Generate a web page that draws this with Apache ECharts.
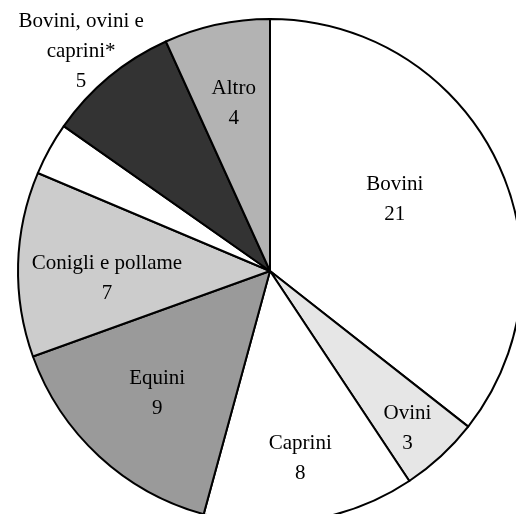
<!DOCTYPE html>
<html>
<head>
<meta charset="utf-8">
<title>Ripartizione</title>
<script src="https://cdn.jsdelivr.net/npm/echarts@6/dist/echarts.min.js"></script>
<style>
  html, body { margin: 0; padding: 0; background: #fff; }
  #chart { width: 516px; height: 514px; }
</style>
</head>
<body>
<div id="chart"></div>
<script>
// slices, clockwise from 12 o'clock
const categories = [
  "Bovini",
  "Ovini",
  "Caprini",
  "Equini",
  "Conigli e pollame",
  "",
  "Bovini, ovini e\ncaprini*",
  "Altro",
];
const values = [21, 3, 8, 9, 7, 2, 5, 4];

const SLICE_COLORS = ["#ffffff", "#e6e6e6", "#ffffff", "#9a9a9a", "#cccccc", "#ffffff", "#333333", "#b3b3b3"];
// label placement: share of the radius, and a small turn (degrees) off the slice middle
const LABEL_REACH = [0.57, 0.83, 0.755, 0.66, 0.648, 0.5, 1.148, 0.68];
const LABEL_TURN = [-3.7, 1.6, 0, 0, -4.3, 0, -1.1, 0];

const FONT = "'Liberation Serif', 'Times New Roman', serif";
const CENTER = [270, 271];
const RADIUS = 252;

const chart = echarts.init(document.getElementById("chart"), null, { renderer: "canvas" });

function midAngle(index) {
  // prefer the library's own sector layout, fall back to summing the values
  try {
    const layout = chart.getModel().getSeriesByIndex(0).getData().getItemLayout(index);
    if (layout && Number.isFinite(layout.startAngle)) {
      return { angle: (layout.startAngle + layout.endAngle) / 2, cx: layout.cx, cy: layout.cy, r: layout.r };
    }
  } catch (e) { /* ignore */ }
  const total = values.reduce((a, b) => a + b, 0);
  const before = values.slice(0, index).reduce((a, b) => a + b, 0);
  const angle = -Math.PI / 2 + ((before + values[index] / 2) / total) * Math.PI * 2;
  return { angle, cx: CENTER[0], cy: CENTER[1], r: RADIUS };
}

const data = categories.map((name, i) => ({
  name,
  value: values[i],
  itemStyle: { color: SLICE_COLORS[i] },
  label: { show: name !== "" },
}));

chart.setOption({
  animation: false,
  backgroundColor: "#ffffff",
  series: [
    {
      type: "pie",
      center: CENTER,
      radius: RADIUS,
      startAngle: 90,
      clockwise: true,
      avoidLabelOverlap: false,
      emphasis: { disabled: true },
      itemStyle: { borderColor: "#000000", borderWidth: 2 },
      label: {
        position: "inside",
        formatter: (p) => p.name + "\n" + p.value,
        fontFamily: FONT,
        fontSize: 21,
        lineHeight: 30,
        color: "#000000",
        align: "center",
      },
      labelLine: { show: false },
      labelLayout: (params) => {
        const i = params.dataIndex;
        const m = midAngle(i);
        const a = m.angle + (LABEL_TURN[i] * Math.PI) / 180;
        const reach = LABEL_REACH[i] * m.r;
        return {
          x: m.cx + reach * Math.cos(a),
          y: m.cy + reach * Math.sin(a),
          align: "center",
          verticalAlign: "middle",
        };
      },
      data,
    },
  ],
});
</script>
</body>
</html>
